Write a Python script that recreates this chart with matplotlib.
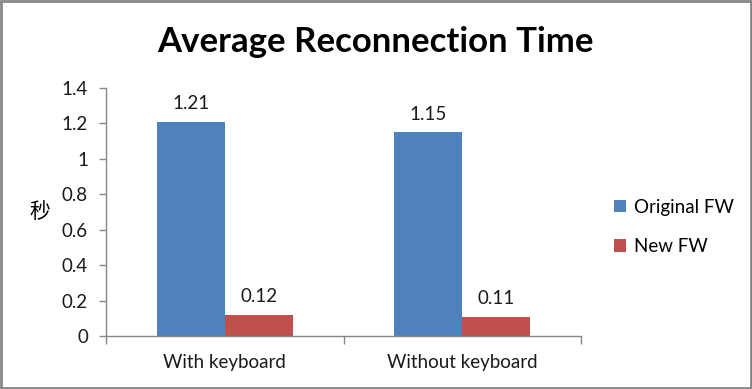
import matplotlib
matplotlib.use("Agg")
import numpy as np
from matplotlib import pyplot as plt
from matplotlib.patches import Rectangle

categories = ["With keyboard", "Without keyboard"]
series_names = ["Original FW", "New FW"]
original_fw = [1.21, 1.15]
new_fw = [0.12, 0.11]
y_ticks = [0, 0.2, 0.4, 0.6, 0.8, 1, 1.2, 1.4]
y_tick_labels = ["0", "0.2", "0.4", "0.6", "0.8", "1", "1.2", "1.4"]

plt.rcParams['font.family'] = ['Lato', 'Noto Sans CJK SC', 'DejaVu Sans']
blue = '#4F81BD'
red = '#C0504D'
axis_gray = '#868686'

fig = plt.figure(figsize=(7.52, 3.89), dpi=100)
ax = fig.add_axes([106 / 752, 1 - 336 / 389, 475 / 752, 248 / 389])

x = np.arange(len(categories))
width = 0.286
b1 = ax.bar(x - width / 2, original_fw, width, color=blue, label=series_names[0])
b2 = ax.bar(x + width / 2, new_fw, width, color=red, label=series_names[1])

for bars, vals in [(b1, original_fw), (b2, new_fw)]:
    for b, v in zip(bars, vals):
        ax.annotate(f"{v:.2f}", (b.get_x() + b.get_width() / 2, v),
                    xytext=(0, 7), textcoords='offset points',
                    ha='center', va='bottom', fontsize=13.5, color='#1a1a1a')

ax.set_xlim(-0.5, len(categories) - 0.5)
ax.set_ylim(0, 1.4)
ax.set_yticks(y_ticks)
ax.set_yticklabels(y_tick_labels)
ax.set_xticks(x)
ax.set_xticklabels(categories)
ax.set_xticks(np.arange(len(categories) + 1) - 0.5, minor=True)
ax.tick_params(axis='x', which='major', length=0, pad=13, labelsize=13.5, labelcolor='#1a1a1a')
ax.tick_params(axis='x', which='minor', length=6, width=1, color=axis_gray, direction='out')
ax.tick_params(axis='y', length=5, width=1, color=axis_gray, direction='out', pad=8,
               labelsize=13.5, labelcolor='#1a1a1a')
for s in ['top', 'right']:
    ax.spines[s].set_visible(False)
for s in ['left', 'bottom']:
    ax.spines[s].set_color(axis_gray)
    ax.spines[s].set_linewidth(1)

ax.set_ylabel("秒", rotation=0, fontsize=15, family=['Noto Sans CJK SC', 'DejaVu Sans'],
              va='center', ha='center')
ax.yaxis.set_label_coords(-0.14, 0.5)

fig.suptitle("Average Reconnection Time", x=375 / 752, y=1 - 42 / 389, va='center',
             fontsize=25, fontweight='bold')

fig.legend(handles=[b1, b2], labels=series_names, loc='center left',
           bbox_to_anchor=(597 / 752, 1 - 227 / 389), frameon=False, fontsize=13.5,
           handlelength=0.65, handleheight=0.65, handletextpad=0.45, labelspacing=1.2)

fig.patches.append(Rectangle((0.0015, 0.003), 0.997, 0.994, transform=fig.transFigure,
                             fill=False, edgecolor=axis_gray, linewidth=2))

fig.savefig("out.png", dpi=100)
